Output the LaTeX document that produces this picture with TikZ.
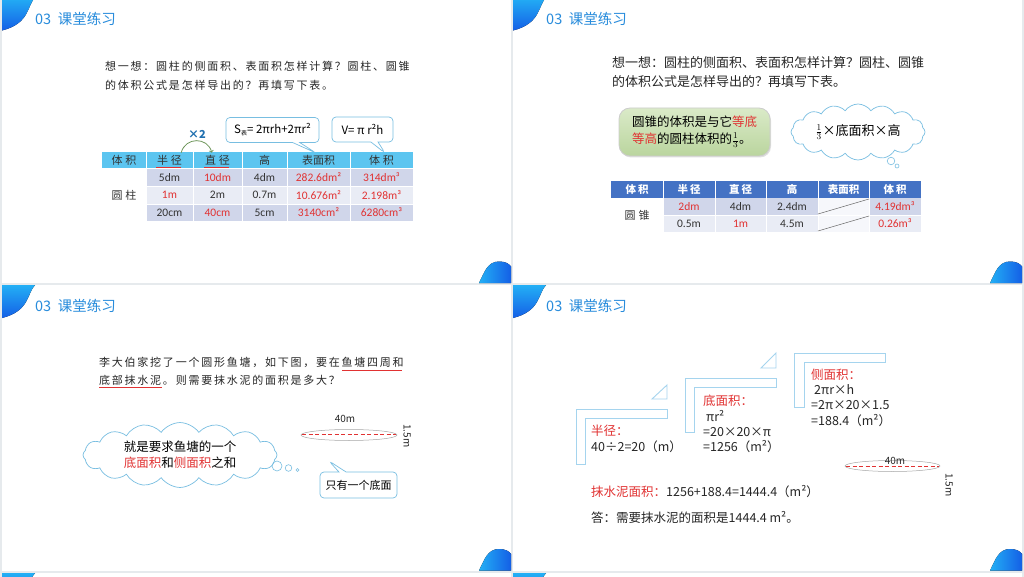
\documentclass[tikz,border=0pt]{standalone}
\usepackage{fontspec}
\setmainfont{Noto Sans CJK SC}
\newfontfamily\numfont{Carlito}
\newfontfamily\spacedfont[LetterSpace=16]{Noto Sans CJK SC}
\usetikzlibrary{shapes.symbols,shapes.callouts,shadows}

\definecolor{pagegray}{RGB}{230,234,237}
\definecolor{titleblue}{RGB}{40,140,220}
\definecolor{swoosha}{RGB}{35,175,245}
\definecolor{swooshb}{RGB}{20,95,230}
\definecolor{headcyan}{RGB}{92,197,240}
\definecolor{headblue}{RGB}{68,114,196}
\definecolor{rowdark}{RGB}{208,214,234}
\definecolor{rowlight}{RGB}{233,236,245}
\definecolor{markred}{RGB}{225,50,50}
\definecolor{tipblue}{RGB}{120,190,225}
\definecolor{stepblue}{RGB}{165,212,238}
\definecolor{arcgreen}{RGB}{110,150,90}
\definecolor{boxgreena}{RGB}{218,234,200}
\definecolor{boxgreenb}{RGB}{186,213,158}

\tikzset{
  pagetitle/.style={anchor=west, inner sep=0pt, text=titleblue, font=\fontsize{14.5}{16}\selectfont},
  askline/.style={anchor=west, inner sep=0pt, text=black!85, font=\spacedfont\fontsize{11}{13}\selectfont},
  askplain/.style={anchor=west, inner sep=0pt, text=black!85, font=\fontsize{13}{15}\selectfont},
  headtxt/.style={inner sep=0pt, text=black!80, font=\fontsize{11}{13}\selectfont},
  headwhite/.style={inner sep=0pt, text=white, font=\bfseries\fontsize{10.5}{12}\selectfont},
  numtxt/.style={inner sep=0pt, text=black!80, font=\numfont\fontsize{11.5}{13}\selectfont},
  hot/.style={text=markred},
  tipbox/.style={rectangle callout, draw=tipblue, fill=white, rounded corners=4pt, line width=0.7pt, inner sep=2pt},
  thought/.style={cloud, cloud puffs=16, cloud puff arc=110, aspect=3.2, draw=tipblue, fill=white, line width=0.7pt, inner sep=0pt},
  stepline/.style={draw=stepblue, line width=0.9pt},
  worktxt/.style={anchor=west, inner sep=0pt, text=black!85, font=\fontsize{12.5}{14}\selectfont},
  poolline/.style={draw=markred, line width=1.1pt, dash pattern=on 4pt off 2.5pt},
  poolrim/.style={draw=black!35, line width=0.5pt},
}

% one slide: white page and its blue corners
\newcommand{\pageframe}[2]{%
  \begin{scope}[shift={(#1,#2)}]
    \fill[white] (0,0) rectangle (509,285.5);
    \fill[top color=swoosha, bottom color=swooshb] (0,0) -- (33,0) .. controls (25,8) and (28,26) .. (0,33) -- cycle;
    \fill[left color=swoosha, right color=swooshb] (477,285.5) .. controls (482,276) and (485,264) .. (497,264) .. controls (503,264) and (507,266) .. (509,269) -- (509,285.5) -- cycle;
  \end{scope}}

\begin{document}
\begin{tikzpicture}[x=1pt, y=-1pt]
\useasboundingbox (0,0) rectangle (1024,577);
\clip (0,0) rectangle (1024,577);
\fill[pagegray] (0,0) rectangle (1024,577);
% pages
\pageframe{2}{-2.5}
\pageframe{513}{-2.5}
\pageframe{2}{285}
\pageframe{513}{285}
\pageframe{2}{573}
\pageframe{513}{573}
\node[pagetitle] (p1) at (35,18.5) {03\ \ 课堂练习};
\node[pagetitle] (p2) at (546,18.5) {03\ \ 课堂练习};
\node[pagetitle] (p3) at (35,306) {03\ \ 课堂练习};
\node[pagetitle] (p4) at (546,306) {03\ \ 课堂练习};

%%% page 1: cylinder table
\node[askline] (q1a) at (105,66) {想一想：圆柱的侧面积、表面积怎样计算？圆柱、圆锥};
\node[askline] (q1b) at (105,85) {的体积公式是怎样导出的？再填写下表。};
% table
\fill[headcyan] (102,152) rectangle (413,168.5);
\fill[rowdark] (146,169) rectangle (413,186);
\fill[rowlight] (146,186) rectangle (413,204);
\fill[rowdark] (146,204) rectangle (413,221);
\draw[white, line width=0.8pt] (146,152) -- (146,221) (193,152) -- (193,221) (242,152) -- (242,221) (287,152) -- (287,221) (350,152) -- (350,221);
\draw[white, line width=0.6pt] (146,186) -- (413,186) (146,204) -- (413,204);
\node[headtxt] (c1h) at (124,160) {体\hspace{3pt}积};
\node[headtxt] (c1r) at (169.5,160) {半\hspace{3pt}径};
\node[headtxt] (c1d) at (217.5,160) {直\hspace{3pt}径};
\node[headtxt] (c1g) at (264.5,160) {高};
\node[headtxt] (c1s) at (318.5,160) {表面积};
\node[headtxt] (c1v) at (381.5,160) {体\hspace{3pt}积};
\draw[markred, line width=1pt] (c1r.south west) ++(-1,2) -- ++(25,0);
\draw[markred, line width=1pt] (c1d.south west) ++(-1,2) -- ++(25,0);
\node[headtxt] (cyl) at (124,195) {圆\hspace{3pt}柱};
\node[numtxt] (a11) at (169.5,177.5) {5dm};
\node[numtxt, hot] (a12) at (217.5,177.5) {10dm};
\node[numtxt] (a13) at (264.5,177.5) {4dm};
\node[numtxt, hot] (a14) at (318.5,177.5) {282.6dm²};
\node[numtxt, hot] (a15) at (381.5,177.5) {314dm³};
\node[numtxt, hot] (a21) at (169.5,195) {1m};
\node[numtxt] (a22) at (217.5,195) {2m};
\node[numtxt] (a23) at (264.5,195) {0.7m};
\node[numtxt, hot] (a24) at (318.5,195) {10.676m²};
\node[numtxt, hot] (a25) at (381.5,195) {2.198m³};
\node[numtxt] (a31) at (169.5,212.5) {20cm};
\node[numtxt, hot] (a32) at (217.5,212.5) {40cm};
\node[numtxt] (a33) at (264.5,212.5) {5cm};
\node[numtxt, hot] (a34) at (318.5,212.5) {3140cm²};
\node[numtxt, hot] (a35) at (381.5,212.5) {6280cm³};
% doubling arc
\draw[arcgreen, thick, ->] ([xshift=-1pt, yshift=2pt]c1r.north east) .. controls +(4,-16) and +(-4,-16) .. ([xshift=7pt, yshift=2pt]c1d.north west);
\node[inner sep=0pt, text=titleblue!80!black, font=\bfseries\fontsize{11}{12}\selectfont] (twice) at (197,134) {×2};
% formula callouts
\coordinate (tipS) at (316,153);
\coordinate (tipV) at (385,153);
\node[tipbox, callout absolute pointer={(tipS)}, minimum width=93pt, minimum height=25pt, font=\fontsize{11.5}{13}\selectfont] (fS) at (272.5,130) {S\raisebox{-2pt}{\fontsize{6}{6}\selectfont 表}= 2πrh+2πr²};
\node[tipbox, callout absolute pointer={(tipV)}, minimum width=61pt, minimum height=25pt, font=\fontsize{11.5}{13}\selectfont] (fV) at (362.5,129.5) {V= π r²h};

%%% page 2: cone table
\node[askplain] (q2a) at (612,63) {想一想：圆柱的侧面积、表面积怎样计算？圆柱、圆锥};
\node[askplain] (q2b) at (612,82) {的体积公式是怎样导出的？再填写下表。};
\node[draw=black!20, line width=0.8pt, rounded corners=11pt, top color=boxgreena, bottom color=boxgreenb,
      drop shadow={opacity=0.25, shadow xshift=1pt, shadow yshift=-1.5pt},
      minimum width=151pt, minimum height=48pt, align=left, font=\fontsize{12.5}{17}\selectfont] (rule) at (694.5,132)
  {圆锥的体积是与它\textcolor{markred}{等底}\\\textcolor{markred}{等高}的圆柱体积的$\frac{1}{3}$。};
\node[thought, minimum width=134pt, minimum height=56pt, font=\fontsize{13}{15}\selectfont] (think1) at (858,132) {$\frac{1}{3}$×底面积×高};
\draw[tipblue, line width=0.6pt] (891,161) circle (3.8) (897,166) circle (2);
% table
\fill[headblue] (611,181) rectangle (921,198);
\fill[rowdark] (663,198) rectangle (921,215);
\fill[rowlight] (663,215) rectangle (921,232);
\fill[white!60!rowlight] (818,198) rectangle (869,232);
\draw[white, line width=0.8pt] (663,181) -- (663,232) (715,181) -- (715,232) (766,181) -- (766,232) (818,181) -- (818,232) (869,181) -- (869,232);
\draw[white, line width=0.6pt] (663,215) -- (921,215);
\node[headwhite] (c2h) at (637,189.5) {体\hspace{2pt}积};
\node[headwhite] (c2r) at (689,189.5) {半\hspace{2pt}径};
\node[headwhite] (c2d) at (740.5,189.5) {直\hspace{2pt}径};
\node[headwhite] (c2g) at (792,189.5) {高};
\node[headwhite] (c2s) at (843.5,189.5) {表面积};
\node[headwhite] (c2v) at (895,189.5) {体\hspace{2pt}积};
\node[headtxt] (cone) at (637,215) {圆\hspace{3pt}锥};
\node[numtxt, hot] (b11) at (689,206.5) {2dm};
\node[numtxt] (b12) at (740.5,206.5) {4dm};
\node[numtxt] (b13) at (792,206.5) {2.4dm};
\node[numtxt, hot] (b15) at (895,206.5) {4.19dm³};
\node[numtxt] (b21) at (689,223.5) {0.5m};
\node[numtxt, hot] (b22) at (740.5,223.5) {1m};
\node[numtxt] (b23) at (792,223.5) {4.5m};
\node[numtxt, hot] (b25) at (895,223.5) {0.26m³};
\draw[black!60, line width=0.5pt] (818,214) -- (869,199) (818,231) -- (869,216);

%%% page 3: the fish pond
\node[askline, font=\spacedfont\fontsize{11}{13}\selectfont] (q3a) at (99,362) {李大伯家挖了一个圆形鱼塘，如下图，要在鱼塘四周和};
\node[askline, font=\spacedfont\fontsize{11}{13}\selectfont] (q3b) at (99,380) {底部抹水泥。则需要抹水泥的面积是多大？};
\draw[markred, line width=1pt] (342,370) -- (402,370) (99,387.5) -- (162,387.5);
% pond
\draw[poolrim] (349,435) ellipse (48 and 5.5);
\draw[poolline] (302,434.5) -- (396,434.5);
\node[inner sep=0pt, font=\fontsize{10}{11}\selectfont, text=black!85] (dia1) at (345,419) {40m};
\node[inner sep=0pt, rotate=-90, font=\fontsize{10}{11}\selectfont, text=black!85] (dep1) at (407,436) {1.5m};
% thought cloud and note
\node[thought, minimum width=194pt, minimum height=62pt, align=left, font=\fontsize{12.5}{16}\selectfont] (think2) at (180,455)
  {就是要求鱼塘的一个\\\textcolor{markred}{底面积}和\textcolor{markred}{侧面积}之和};
\draw[tipblue, line width=0.6pt] (277,466) circle (5) (288.5,468) circle (3.3) (297.5,470) circle (1.5);
\coordinate (tipB) at (329,461);
\node[tipbox, callout absolute pointer={(tipB)}, minimum width=77pt, minimum height=26pt, font=\fontsize{11}{13}\selectfont] (onlyone) at (358.5,485) {只有一个底面};

%%% page 4: the working
\draw[stepline] (576,409) -- (667,409) -- (667,418) -- (585,418) -- (585,464) -- (576,464) -- cycle;
\draw[stepline] (652,399) -- (667,399) -- (667,385) -- cycle;
\draw[stepline] (685,378) -- (776,378) -- (776,387) -- (694,387) -- (694,432) -- (685,432) -- cycle;
\draw[stepline] (761,368) -- (776,368) -- (776,353) -- cycle;
\draw[stepline] (794,353) -- (885,353) -- (885,362) -- (804,362) -- (804,407) -- (794,407) -- cycle;
\node[worktxt, hot] (s1a) at (591,431) {半径：};
\node[worktxt] (s1b) at (591,447) {40÷2=20（m）};
\node[worktxt, hot] (s2a) at (703,401) {底面积：};
\node[worktxt] (s2b) at (706,416) {πr²};
\node[worktxt] (s2c) at (703,432) {=20×20×π};
\node[worktxt] (s2d) at (703,447) {=1256（m²）};
\node[worktxt, hot] (s3a) at (811,375) {侧面积：};
\node[worktxt] (s3b) at (814,390) {2πr×h};
\node[worktxt] (s3c) at (811,405) {=2π×20×1.5};
\node[worktxt] (s3d) at (811,421) {=188.4（m²）};
% pond
\draw[poolrim] (892.5,466) ellipse (47.5 and 5.5);
\draw[poolline] (846,466.5) -- (939,466.5);
\node[inner sep=0pt, font=\fontsize{10}{11}\selectfont, text=black!85] (dia2) at (895,461) {40m};
\node[inner sep=0pt, rotate=-90, font=\fontsize{10}{11}\selectfont, text=black!85] (dep2) at (949,485) {1.5m};
\node[worktxt] (total) at (591,492) {\textcolor{markred}{抹水泥面积：}1256+188.4=1444.4（m²）};
\node[worktxt] (answer) at (591,517) {答：需要抹水泥的面积是1444.4 m²。};
\end{tikzpicture}
\end{document}
